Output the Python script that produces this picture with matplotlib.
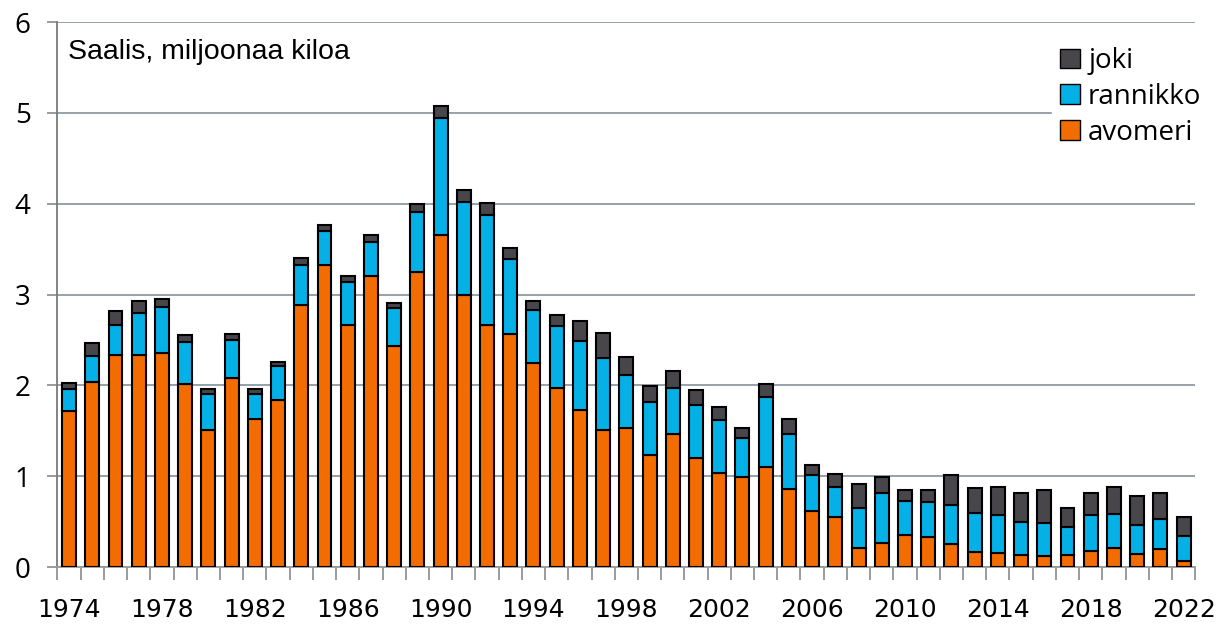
import numpy as np
import matplotlib.pyplot as plt
from matplotlib.patches import Patch

years = list(range(1974, 2023))
avomeri = [1.72, 2.04, 2.33, 2.33, 2.36, 2.02, 1.51, 2.08, 1.63, 1.84,
           2.89, 3.32, 2.66, 3.20, 2.43, 3.25, 3.65, 3.00, 2.66, 2.57,
           2.25, 1.97, 1.73, 1.51, 1.53, 1.23, 1.46, 1.20, 1.04, 0.99,
           1.10, 0.86, 0.62, 0.55, 0.21, 0.26, 0.35, 0.33, 0.25, 0.16,
           0.15, 0.13, 0.12, 0.13, 0.18, 0.21, 0.14, 0.20, 0.07]
rannikko = [0.24, 0.28, 0.33, 0.47, 0.50, 0.46, 0.40, 0.42, 0.28, 0.37,
            0.44, 0.38, 0.48, 0.38, 0.42, 0.66, 1.29, 1.02, 1.22, 0.82,
            0.58, 0.68, 0.76, 0.79, 0.58, 0.59, 0.51, 0.58, 0.58, 0.43,
            0.77, 0.60, 0.39, 0.33, 0.44, 0.56, 0.38, 0.39, 0.43, 0.44,
            0.42, 0.37, 0.37, 0.31, 0.39, 0.37, 0.32, 0.33, 0.27]
joki = [0.07, 0.15, 0.16, 0.13, 0.09, 0.07, 0.05, 0.06, 0.05, 0.05,
        0.07, 0.06, 0.06, 0.07, 0.06, 0.09, 0.14, 0.13, 0.13, 0.12,
        0.10, 0.13, 0.22, 0.28, 0.20, 0.17, 0.19, 0.17, 0.14, 0.11,
        0.14, 0.17, 0.11, 0.14, 0.26, 0.17, 0.12, 0.13, 0.33, 0.27,
        0.31, 0.32, 0.36, 0.21, 0.24, 0.30, 0.32, 0.29, 0.21]
label_years = list(range(1974, 2023, 4))

c_avo = '#F36C00'
c_ran = '#05B0E6'
c_joki = '#48464B'

fig = plt.figure(figsize=(12.2, 6.24), dpi=100)
ax = fig.add_axes([0.0467, 0.0913, 0.933, 0.8734])

x = np.array(years)
avo = np.array(avomeri)
ran = np.array(rannikko)
jk = np.array(joki)
w = 0.6
ax.bar(x, avo, w, color=c_avo, edgecolor='black', linewidth=1.5, zorder=3)
ax.bar(x, ran, w, bottom=avo, color=c_ran, edgecolor='black', linewidth=1.5, zorder=3)
ax.bar(x, jk, w, bottom=avo + ran, color=c_joki, edgecolor='black', linewidth=1.5, zorder=3)

ax.set_xlim(1973.48, 2022.5)
ax.set_ylim(0, 6)
ax.set_yticks(range(0, 7))
ax.yaxis.grid(True, color='#8E9AA3', linewidth=1.3, zorder=0)

for s in ['top', 'right']:
    ax.spines[s].set_visible(False)
ax.spines['left'].set_color('#7A7A7A')
ax.spines['bottom'].set_color('#9A9A9A')
ax.spines['left'].set_linewidth(1.3)
ax.spines['bottom'].set_linewidth(1.3)

# year labels at bar centres, tick marks between the bars
ax.set_xticks(label_years)
ax.set_xticks([y - 0.5 for y in years] + [2022.5], minor=True)
ax.tick_params(axis='x', which='major', length=0, pad=22, labelsize=18)
ax.tick_params(axis='x', which='minor', length=9, color='#8A8A8A', width=1.2)
ax.tick_params(axis='y', length=7, color='#8A8A8A', width=1.2, labelsize=20, pad=12)
for t in ax.get_yticklabels():
    t.set_family(['Open Sans', 'DejaVu Sans'])

ax.text(0.01, 0.968, 'Saalis, miljoonaa kiloa', transform=ax.transAxes,
        fontsize=20.5, family=['Liberation Sans', 'DejaVu Sans'], va='top', ha='left')

handles = [Patch(facecolor=c_joki, edgecolor='black', label='joki'),
           Patch(facecolor=c_ran, edgecolor='black', label='rannikko'),
           Patch(facecolor=c_avo, edgecolor='black', label='avomeri')]
leg = ax.legend(handles=handles, loc='upper right', bbox_to_anchor=(1.025, 0.995),
                frameon=True, fancybox=False, framealpha=1, edgecolor='white',
                prop={'family': ['Open Sans', 'DejaVu Sans'], 'size': 20},
                handlelength=0.7, handleheight=0.7, handletextpad=0.3,
                labelspacing=0.28, borderpad=0.3)
leg.set_zorder(5)

fig.savefig('out.png', dpi=100, facecolor='white')
